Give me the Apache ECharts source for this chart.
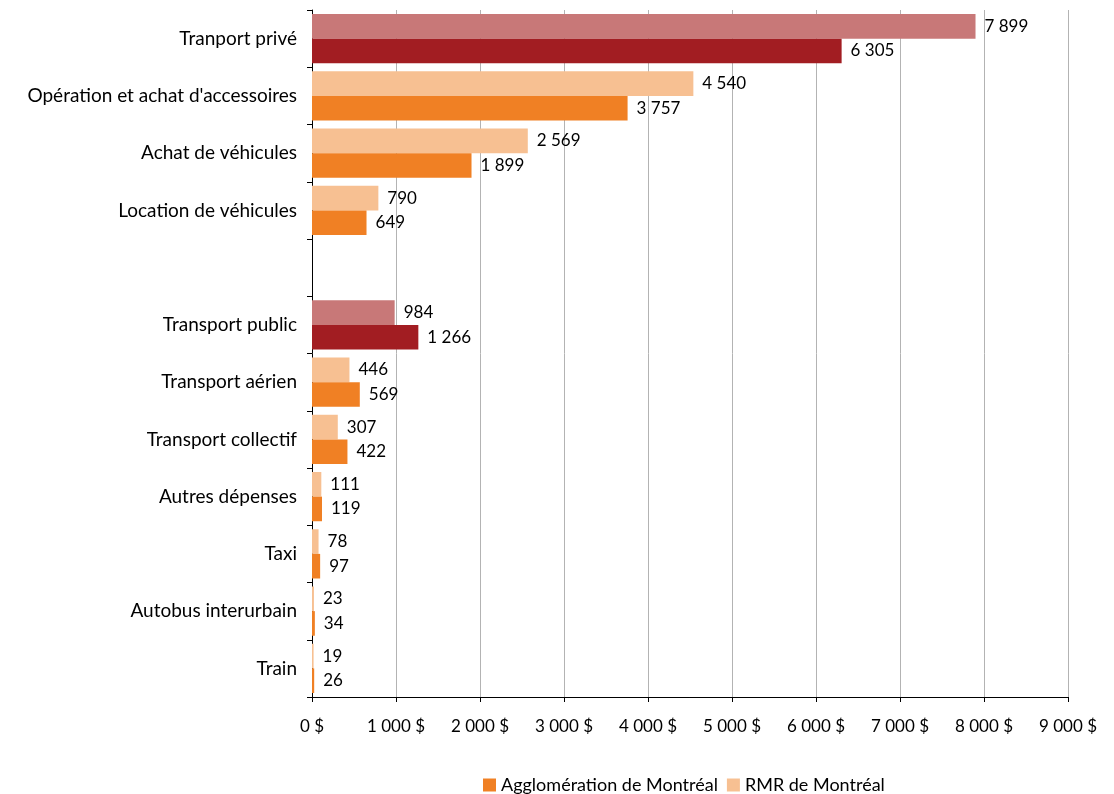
<!DOCTYPE html>
<html><head><meta charset="utf-8">
<script src="https://cdn.jsdelivr.net/npm/echarts@6/dist/echarts.min.js"></script>
<style>html,body{margin:0;padding:0;background:#fff}#c{width:1114px;height:794px}</style>
</head><body><div id="c"></div>
<script>
const categories = ["Tranport privé","Opération et achat d'accessoires","Achat de véhicules","Location de véhicules","","Transport public","Transport aérien","Transport collectif","Autres dépenses","Taxi","Autobus interurbain","Train"];
const rmrValues = [7899,4540,2569,790,null,984,446,307,111,78,23,19];
const aggloValues = [6305,3757,1899,649,null,1266,569,422,119,97,34,26];
const xTicks = [0,1000,2000,3000,4000,5000,6000,7000,8000,9000];
const totalRows = [0,5];
const FONT = 'Lato';
function fmt(v){return String(v).replace(/\B(?=(\d{3})+(?!\d))/g,' ');}
function mk(vals, normal, total){
  return vals.map((v,i)=> v==null ? '-' : (totalRows.includes(i) ? {value:v,itemStyle:{color:total}} : {value:v,itemStyle:{color:normal}}));
}
const chart = echarts.init(document.getElementById('c'));
const lbl = {show:true,position:'right',distance:9,color:'#000',fontFamily:FONT,fontSize:17,formatter:p=>fmt(p.value)};
chart.setOption({
  animation:false,
  textStyle:{fontFamily:FONT},
  grid:{left:312,right:46,top:10,bottom:97,containLabel:false},
  legend:{top:771,left:478,data:['Agglomération de Montréal','RMR de Montréal'],itemWidth:13,itemHeight:13,itemGap:9,icon:'rect',textStyle:{fontFamily:FONT,fontSize:18,color:'#000'}},
  xAxis:{type:'value',min:0,max:9000,interval:1000,
    axisLine:{show:true,lineStyle:{color:'#000'}},
    axisTick:{show:true,length:5,lineStyle:{color:'#000'}},
    splitLine:{show:true,lineStyle:{color:'#b3b3b3',width:1}},
    axisLabel:{margin:21,color:'#000',fontFamily:FONT,fontSize:17,formatter:v=>fmt(v)+' $'}},
  yAxis:{type:'category',inverse:true,data:categories,
    axisLine:{show:true,lineStyle:{color:'#000'}},
    axisTick:{show:true,length:5,inside:false,alignWithLabel:false,lineStyle:{color:'#000'}},
    axisLabel:{margin:15,color:'#000',fontFamily:FONT,fontSize:19}},
  series:[
    {name:'RMR de Montréal',type:'bar',data:mk(rmrValues,'#F7C092','#C87878'),itemStyle:{color:'#F7C092'},barGap:'0%',barCategoryGap:'14%',label:lbl},
    {name:'Agglomération de Montréal',type:'bar',data:mk(aggloValues,'#F08024','#A21D22'),itemStyle:{color:'#F08024'},barGap:'0%',barCategoryGap:'14%',label:lbl}
  ]
});
</script></body></html>
